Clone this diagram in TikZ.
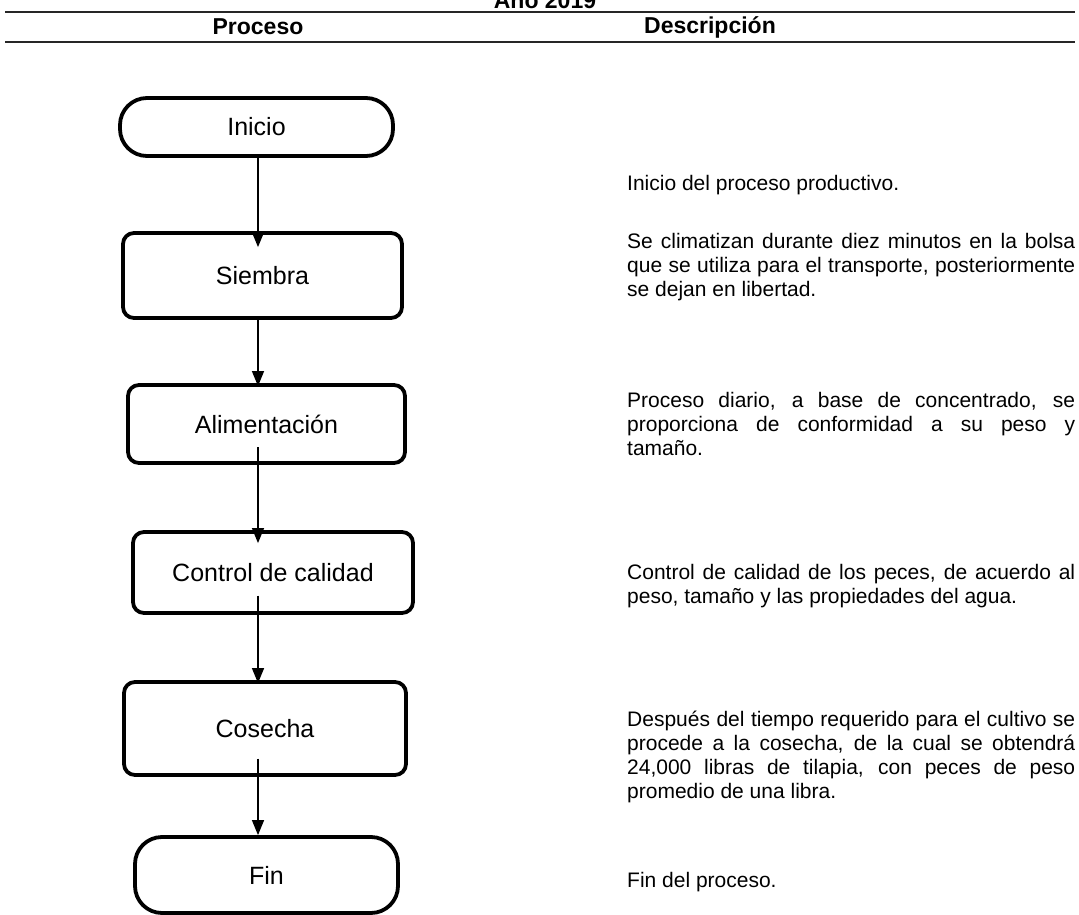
\documentclass[tikz,border=0pt]{standalone}
\usepackage{fontspec}
\setmainfont{Liberation Sans}
\usetikzlibrary{arrows.meta,calc}
\begin{document}
\begin{tikzpicture}[x=1pt,y=-1pt,
  basefont/.style={font=\fontsize{21}{24}\selectfont},
  boxnode/.style={draw, line width=3.8pt, rounded corners=11pt, font=\fontsize{25}{28}\selectfont, inner sep=0pt, align=center},
  termnode/.style={boxnode, rounded corners=27pt},
  flow/.style={line width=1.3pt, -{Triangle[length=15pt,width=12pt]}},
  desc/.style={anchor=base west, inner sep=0pt, basefont},
  head/.style={font=\fontsize{23}{26}\selectfont\bfseries, inner sep=0pt},
  rule/.style={line width=1.4pt, draw=black!85}
]
\useasboundingbox (0,0) rectangle (1079,915);

% header
\node[head, anchor=base] (anio) at (545,9) {Año 2019};
\coordinate (r1a) at (5,12);
\coordinate (r1b) at (1075,12);
\coordinate (r2a) at (5,42);
\coordinate (r2b) at (1075,42);
\draw[rule] (r1a) -- (r1b);
\draw[rule] (r2a) -- (r2b);
\node[head] (hproc) at (258,27) {Proceso};
\node[head] (hdesc) at (710,27) {Descripción};

% flowchart nodes
\node[termnode, minimum width=273pt, minimum height=58pt] (inicio) at (256.5,127) {Inicio};
\node[boxnode, minimum width=279pt, minimum height=85pt] (siembra) at (262.5,275.5) {Siembra};
\node[boxnode, minimum width=277pt, minimum height=78pt] (alim) at (266.5,424) {Alimentación};
\node[boxnode, minimum width=280pt, minimum height=81pt] (control) at (273,572.5) {Control de calidad};
\node[boxnode, minimum width=282pt, minimum height=93pt] (cosecha) at (265,728.5) {Cosecha};
\node[termnode, minimum width=263pt, minimum height=76pt] (fin) at (266.5,875) {Fin};

\coordinate (axis) at (258,0);

\draw[flow] (axis |- inicio.south) -- ($(axis |- siembra.north)+(0,16)$);
\draw[flow] (axis |- siembra.south) -- ($(axis |- alim.north)+(0,3)$);
\draw[flow] ($(axis |- alim.center)+(0,23)$) -- ($(axis |- control.north)+(0,13)$);
\draw[flow] ($(axis |- control.center)+(0,23)$) -- ($(axis |- cosecha.north)+(0,3)$);
\draw[flow] ($(axis |- cosecha.center)+(0,30)$) -- (axis |- fin.north);

% descriptions
\begingroup
\hyphenpenalty=10000 \exhyphenpenalty=10000
\node[desc] (d1) at (627,190) {\parbox[t]{448pt}{Inicio del proceso productivo.}};
\node[desc] (d2) at (627,248) {\parbox[t]{448pt}{Se climatizan durante diez minutos en la bolsa\linebreak que se utiliza para el transporte, posteriormente\linebreak se dejan en libertad.}};
\node[desc] (d3) at (627,407) {\parbox[t]{448pt}{Proceso diario, a base de concentrado, se\linebreak proporciona de conformidad a su peso y\linebreak tamaño.}};
\node[desc] (d4) at (627,579) {\parbox[t]{448pt}{Control de calidad de los peces, de acuerdo al\linebreak peso, tamaño y las propiedades del agua.}};
\node[desc] (d5) at (627,726) {\parbox[t]{448pt}{Después del tiempo requerido para el cultivo se\linebreak procede a la cosecha, de la cual se obtendrá\linebreak 24,000 libras de tilapia, con peces de peso\linebreak promedio de una libra.}};
\node[desc] (d6) at (627,887) {\parbox[t]{448pt}{Fin del proceso.}};
\endgroup
\end{tikzpicture}
\end{document}
